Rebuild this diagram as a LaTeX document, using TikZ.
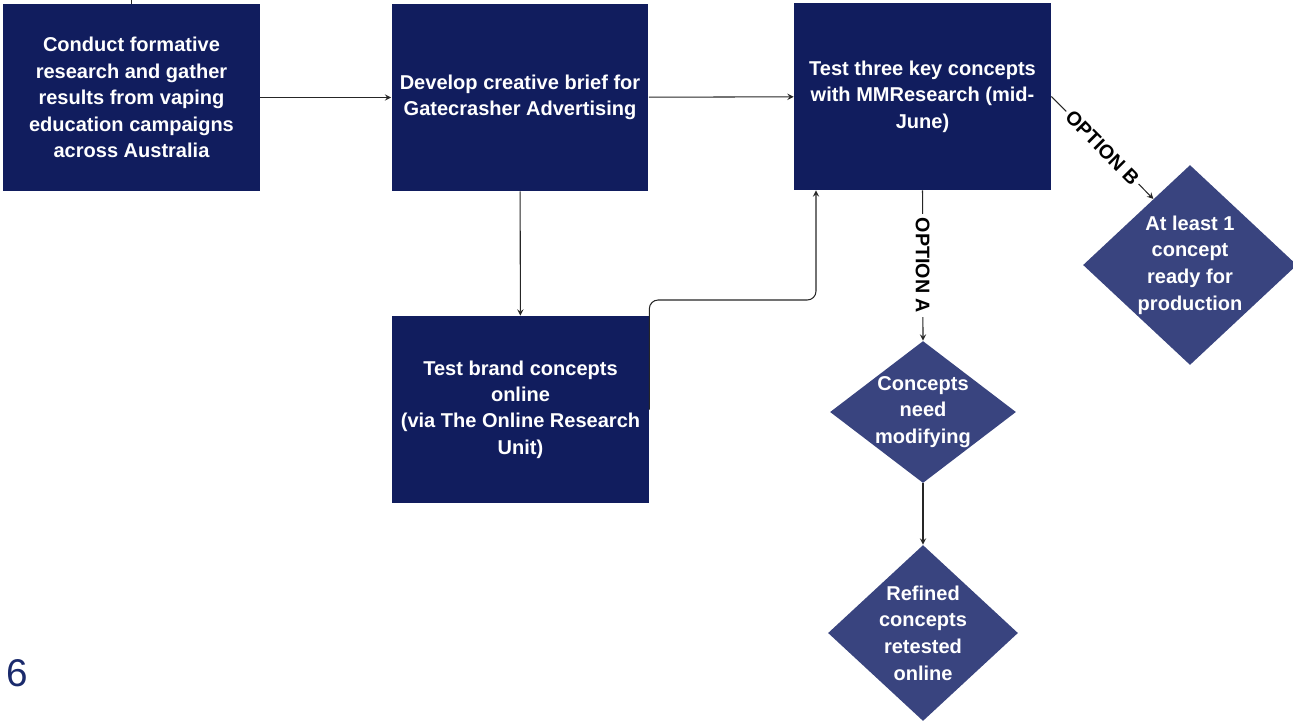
\documentclass[tikz,border=0pt]{standalone}
\usepackage{fontspec}
\setmainfont{Liberation Sans}
\usetikzlibrary{arrows,shapes.geometric}

\definecolor{navybox}{HTML}{111D5E}
\definecolor{slatediamond}{HTML}{39447F}
\definecolor{pagecolor}{HTML}{1A2A6C}

\tikzset{
  procbox/.style={rectangle, fill=navybox, text=white, minimum width=5.14cm,
    minimum height=3.74cm, inner sep=0pt, align=center,
    font=\bfseries\fontsize{11.4}{15}\selectfont},
  decision/.style={diamond, fill=slatediamond, inner sep=0pt},
  dlabel/.style={text=white, align=center, font=\bfseries\fontsize{11.4}{15.2}\selectfont},
  link/.style={draw=black!85, line width=0.6pt, -stealth},
  optlabel/.style={fill=white, inner sep=2pt, font=\bfseries\fontsize{11.2}{13}\selectfont},
}

\begin{document}
\begin{tikzpicture}[x=0.02cm, y=-0.02cm]
\useasboundingbox (0,0) rectangle (1293,721);

% boxes
\node[procbox] (research) at (131.5,97.5) {Conduct formative\\research and gather\\results from vaping\\education campaigns\\across Australia};
\node[procbox] (brief) at (520,97.5) {Develop creative brief for\\Gatecrasher Advertising};
\node[procbox] (mmr) at (922.5,96.5) {Test three key concepts\\with MMResearch (mid-\\June)};
\node[procbox] (online) at (520.5,409.5) {Test brand concepts\\online\\(via The Online Research\\Unit)};

% decisions
\node[decision, minimum width=4.28cm, minimum height=4cm,
  label={[dlabel]center:At least 1\\concept\\ready for\\production}] (ready) at (1190,265) {};
\node[decision, minimum width=3.72cm, minimum height=2.84cm,
  label={[dlabel]center:Concepts\\need\\modifying}] (modify) at (923,412) {};
\node[decision, minimum width=3.8cm, minimum height=3.52cm,
  label={[dlabel]center:Refined\\concepts\\retested\\online}] (retest) at (923,633) {};

\node[text=pagecolor, font=\fontsize{22}{26}\selectfont] (page) at (17,673) {6};

\coordinate (top) at (131.5,0);
\coordinate (bend) at (816,300);

% connectors
\draw[draw=black!85, line width=0.6pt] (research.north) -- (top);
\draw[link] (research) -- (brief);
\draw[link] (brief) -- (mmr);
\draw[link] (brief) -- (online);
\draw[link, rounded corners=5pt] (online.east) |- (bend) -- (bend |- mmr.south);
\draw[link] (mmr.south) -- node[optlabel, rotate=-90] {OPTION A} (modify.north);
\draw[link] (mmr.east) -- node[optlabel, sloped] {OPTION B} (ready.119);
\draw[link] (modify.south) -- (retest.north);
\end{tikzpicture}
\end{document}
